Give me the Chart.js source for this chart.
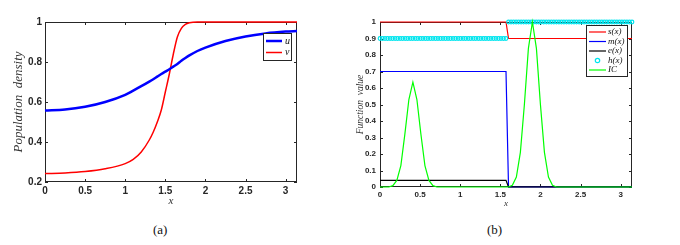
<!DOCTYPE html>
<html>
<head>
<meta charset="utf-8">
<script src="https://cdn.jsdelivr.net/npm/chart.js@4.4.0/dist/chart.umd.min.js"></script>
<style>
  body { margin: 0; background: #fff; width: 680px; height: 245px; position: relative; overflow: hidden; }
  canvas { position: absolute; top: 0; }
  #chartA { left: 0; }
  #chartB { left: 340px; }
  .cap { position: absolute; top: 222px; font: 13px "Liberation Serif", serif; color: #111; }
</style>
</head>
<body>
<canvas id="chartA" width="340" height="215"></canvas>
<canvas id="chartB" width="340" height="215"></canvas>
<div class="cap" style="left:153px">(a)</div>
<div class="cap" style="left:487px">(b)</div>
<script>
// ---- data (a): population densities u, v ----
const xA = [0, 0.25, 0.5, 0.75, 1, 1.1, 1.2, 1.3, 1.35, 1.4, 1.45, 1.5, 1.55, 1.6, 1.65, 1.7, 1.75, 1.8, 1.9, 2, 2.25, 2.5, 2.75, 3, 3.1416];
const uVals = [0.557, 0.562, 0.576, 0.600, 0.636, 0.657, 0.679, 0.702, 0.714, 0.727, 0.740, 0.752, 0.764, 0.777, 0.790, 0.806, 0.820, 0.833, 0.855, 0.872, 0.905, 0.928, 0.943, 0.952, 0.955];
const vVals = [0.242, 0.245, 0.252, 0.266, 0.292, 0.313, 0.350, 0.410, 0.450, 0.500, 0.560, 0.650, 0.740, 0.840, 0.925, 0.968, 0.988, 0.996, 1.0, 1.0, 1.0, 1.0, 1.0, 1.0, 1.0];

// ---- data (b): coefficient functions and initial condition ----
const xStep = [0, 1.5708, 1.6022, 3.1416];
const sVals = [1, 1, 0.9, 0.9];
const mVals = [0.7, 0.7, 0, 0];
const eVals = [0.04, 0.04, 0, 0];
// h(x) is plotted as markers only, one per grid node (pi/100 apart)
const hNodes = 101;
const hLow = 0.9, hHigh = 1, hJump = 1.58;
const icX = [0, 0.11, 0.16, 0.21, 0.26, 0.31, 0.36, 0.41, 0.46, 0.51, 0.56, 0.61, 0.66, 0.71,
             1.6, 1.65, 1.7, 1.75, 1.8, 1.85, 1.9, 1.95, 2.0, 2.05, 2.1, 2.15, 2.2, 3.1416];
const icVals = [0, 0, 0.008, 0.04, 0.13, 0.32, 0.53, 0.635, 0.53, 0.32, 0.13, 0.04, 0.008, 0,
                0, 0.01, 0.06, 0.21, 0.5, 0.84, 1.0, 0.84, 0.5, 0.21, 0.06, 0.01, 0, 0];

// ---- ticks ----
const xTicks = [0, 0.5, 1, 1.5, 2, 2.5, 3];
const xTickLabels = ['0', '0.5', '1', '1.5', '2', '2.5', '3'];
const yTicksA = [0.2, 0.4, 0.6, 0.8, 1];
const yTickLabelsA = ['0.2', '0.4', '0.6', '0.8', '1'];
const yTicksB = [0, 0.1, 0.2, 0.3, 0.4, 0.5, 0.6, 0.7, 0.8, 0.9, 1];
const yTickLabelsB = ['0', '0.1', '0.2', '0.3', '0.4', '0.5', '0.6', '0.7', '0.8', '0.9', '1'];

const pts = (xs, ys) => xs.map((x, i) => ({ x: x, y: ys[i] }));
const hData = [];
for (let k = 0; k < hNodes; k++) {
    const x = k * Math.PI / (hNodes - 1);
    hData.push({ x: x, y: x < hJump ? hLow : hHigh });
}

const sans = '"Liberation Sans", Arial, sans-serif';
const serif = '"Liberation Serif", "Times New Roman", serif';
const axisCol = '#262626';

// matlab style box with inward ticks
const boxPlugin = {
    id: 'box',
    beforeDatasetsDraw(chart, args, opts) {
        const { ctx, chartArea: a } = chart;
        const x = chart.scales.x, y = chart.scales.y;
        const t = opts.tick;
        ctx.save();
        ctx.strokeStyle = axisCol;
        ctx.lineWidth = 1;
        ctx.strokeRect(Math.round(a.left) + 0.5, Math.round(a.top) + 0.5,
                       Math.round(a.right - a.left) - 1, Math.round(a.bottom - a.top) - 1);
        ctx.beginPath();
        x.ticks.forEach(tk => {
            const px = Math.round(x.getPixelForValue(tk.value)) + 0.5;
            ctx.moveTo(px, a.bottom); ctx.lineTo(px, a.bottom - t);
            ctx.moveTo(px, a.top); ctx.lineTo(px, a.top + t);
        });
        y.ticks.forEach(tk => {
            const py = Math.round(y.getPixelForValue(tk.value)) + 0.5;
            ctx.moveTo(a.left, py); ctx.lineTo(a.left + t, py);
            ctx.moveTo(a.right, py); ctx.lineTo(a.right - t, py);
        });
        ctx.stroke();
        ctx.restore();
    },
    afterDraw(chart, args, opts) {
        // legend box
        const L = opts.legend;
        if (!L) return;
        const ctx = chart.ctx;
        ctx.save();
        ctx.fillStyle = '#fff';
        ctx.fillRect(L.left, L.top, L.width, L.height);
        ctx.strokeStyle = axisCol;
        ctx.lineWidth = 1;
        ctx.strokeRect(L.left + 0.5, L.top + 0.5, L.width, L.height);
        ctx.font = L.font;
        ctx.textBaseline = 'middle';
        chart.data.datasets.forEach((ds, i) => {
            const yy = L.rowY + i * L.rowGap;
            ctx.strokeStyle = ds.borderColor;
            ctx.lineWidth = ds.borderWidth;
            ctx.beginPath();
            if (ds.showLine === false) {
                ctx.arc((L.lineX0 + L.lineX1) / 2, yy, ds.pointRadius + 0.4, 0, Math.PI * 2);
            } else {
                ctx.moveTo(L.lineX0, yy);
                ctx.lineTo(L.lineX1, yy);
            }
            ctx.stroke();
            ctx.fillStyle = '#111';
            ctx.fillText(ds.label, L.textX, yy);
        });
        ctx.restore();
    }
};

function xScale(fontSize, pad, titleSize, titlePad, height) {
    return {
        type: 'linear', min: 0, max: Math.PI,
        afterBuildTicks: s => { s.ticks = xTicks.map(v => ({ value: v })); },
        afterFit: s => { s.height = height; },
        grid: { display: false, drawTicks: false }, border: { display: false },
        ticks: { callback: (v, i) => xTickLabels[i], autoSkip: false, maxRotation: 0,
                 padding: pad, color: axisCol, font: { family: sans, size: fontSize, weight: 'bold' } },
        title: { display: true, text: 'x', color: '#333', padding: { top: 0, bottom: titlePad },
                 font: { family: serif, size: titleSize, style: 'italic' } }
    };
}
function yScale(lo, hi, vals, labels, fontSize, pad, title, titleSize, titlePad, width) {
    return {
        min: lo, max: hi,
        afterBuildTicks: s => { s.ticks = vals.map(v => ({ value: v })); },
        afterFit: s => { s.width = width; },
        grid: { display: false, drawTicks: false }, border: { display: false },
        ticks: { callback: (v, i) => labels[i], autoSkip: false,
                 padding: pad, color: axisCol, font: { family: sans, size: fontSize, weight: 'bold' } },
        title: { display: true, text: title, color: '#333', padding: { top: titlePad, bottom: 0 },
                 font: { family: serif, size: titleSize, style: 'italic' } }
    };
}

// chart (a)
new Chart(document.getElementById('chartA').getContext('2d'), {
    type: 'line',
    data: {
        datasets: [
            { label: 'u', data: pts(xA, uVals), borderColor: '#0000ff', borderWidth: 2.5,
              pointRadius: 0, cubicInterpolationMode: 'monotone', clip: 4 },
            { label: 'v', data: pts(xA, vVals), borderColor: '#ff0000', borderWidth: 1.5,
              pointRadius: 0, cubicInterpolationMode: 'monotone', clip: 4 }
        ]
    },
    options: {
        responsive: false, animation: false, devicePixelRatio: 1,
        layout: { padding: { top: 22, right: 43, left: 0, bottom: 0 } },
        plugins: {
            legend: { display: false }, tooltip: { enabled: false },
            box: { tick: 3, legend: { left: 263, top: 33, width: 28, height: 27, lineX0: 266, lineX1: 282,
                                      textX: 285, rowY: 41, rowGap: 11.5, font: 'italic 10px ' + serif } }
        },
        scales: {
            x: xScale(10, 3, 11, 7, 33),
            y: yScale(0.2, 1, yTicksA, yTickLabelsA, 10, 3, 'Population  density', 13, 11, 45)
        }
    },
    plugins: [boxPlugin]
});

// chart (b)
new Chart(document.getElementById('chartB').getContext('2d'), {
    type: 'line',
    data: {
        datasets: [
            { label: 's(x)', data: pts(xStep, sVals), borderColor: '#ff0000', borderWidth: 1.2,
              pointRadius: 0, tension: 0, clip: 4, order: 5 },
            { label: 'm(x)', data: pts(xStep, mVals), borderColor: '#0000ff', borderWidth: 1.2,
              pointRadius: 0, tension: 0, clip: 4, order: 4 },
            { label: 'e(x)', data: pts(xStep, eVals), borderColor: '#000000', borderWidth: 1.2,
              pointRadius: 0, tension: 0, clip: 4, order: 3 },
            { label: 'h(x)', data: hData, borderColor: '#00e5ee', borderWidth: 1.2, showLine: false,
              pointRadius: 1.8, pointStyle: 'circle', pointBackgroundColor: 'rgba(0,0,0,0)',
              pointBorderColor: '#00e5ee', pointBorderWidth: 1.2, clip: 4, order: 2 },
            { label: 'IC', data: pts(icX, icVals), borderColor: '#00ff00', borderWidth: 1.2,
              pointRadius: 0, tension: 0, clip: 4, order: 1 }
        ]
    },
    options: {
        responsive: false, animation: false, devicePixelRatio: 1,
        layout: { padding: { top: 22, right: 48, left: 0, bottom: 0 } },
        plugins: {
            legend: { display: false }, tooltip: { enabled: false },
            box: { tick: 3, legend: { left: 246, top: 25, width: 41, height: 51, lineX0: 249, lineX1: 266,
                                      textX: 268, rowY: 32, rowGap: 9.5, font: 'italic 9px ' + serif } }
        },
        scales: {
            x: xScale(8, 3, 9, 6, 28),
            y: yScale(0, 1, yTicksB, yTickLabelsB, 8, 4, 'Function  value', 9.5, 15, 40)
        }
    },
    plugins: [boxPlugin]
});
</script>
</body>
</html>
